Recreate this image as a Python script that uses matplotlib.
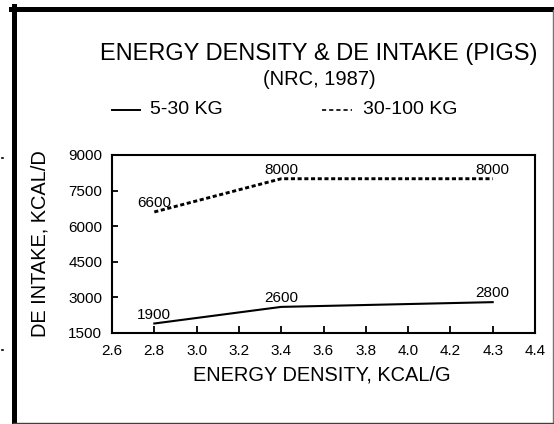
import numpy as np
import matplotlib.pyplot as plt
from matplotlib.lines import Line2D

plt.rcParams['font.family'] = ['Liberation Sans', 'DejaVu Sans']

# data
x_labels = ["2.6", "2.8", "3.0", "3.2", "3.4", "3.6", "3.8", "4.0", "4.2", "4.3", "4.4"]
energy = ["2.8", "3.4", "4.3"]
intake_5_30 = [1900, 2600, 2800]
intake_30_100 = [6600, 8000, 8000]
y_ticks = [1500, 3000, 4500, 6000, 7500, 9000]

# ticks are evenly spaced, so plot against label position
pos = [x_labels.index(e) for e in energy]

W, H = 554, 424
fig = plt.figure(figsize=(W/100, H/100), dpi=100)
ax = fig.add_axes([112/W, 1 - 333/H, 423/W, 178/H])

dots = (0, (1.4, 0.9))
ax.plot(pos, intake_5_30, color="k", lw=1.5)
ax.plot(pos, intake_30_100, color="k", lw=2.1, linestyle=dots)

for series in (intake_5_30, intake_30_100):
    for x, y in zip(pos, series):
        ax.annotate(str(y), (x, y), xytext=(0, 3.6), textcoords="offset points",
                    ha="center", va="baseline", fontsize=11)

ax.set_xlim(0, len(x_labels) - 1)
ax.set_ylim(1500, 9000)
ax.set_xticks(range(len(x_labels)))
ax.set_xticklabels(x_labels)
ax.set_yticks(y_ticks)
ax.tick_params(direction="in", width=1.3, labelsize=11)
ax.tick_params(axis="y", length=4, pad=7)
ax.tick_params(axis="x", length=5, pad=8)
for s in ax.spines.values():
    s.set_linewidth(1.5)

ax.set_xlabel("ENERGY DENSITY, KCAL/G", fontsize=14.4, va="center")
ax.xaxis.set_label_coords(0.495, -0.235)
ax.set_ylabel("DE INTAKE, KCAL/D", fontsize=14.4, va="center")
ax.yaxis.set_label_coords(-0.170, 0.5)

fig.text(319/W, 1 - 60/H, "ENERGY DENSITY & DE INTAKE (PIGS)", fontsize=17,
         ha="center", va="baseline")
fig.text(319/W, 1 - 85/H, "(NRC, 1987)", fontsize=14.5, ha="center", va="baseline")

# legend row
ly = 1 - 110/H
fig.add_artist(Line2D([112/W, 140/W], [ly, ly], color="k", lw=1.4))
fig.text(150/W, ly, "5-30 KG", fontsize=14, va="center")
fig.add_artist(Line2D([322/W, 352/W], [ly, ly], color="k", lw=1.2,
                      linestyle=(0, (2.5, 1.8))))
fig.text(363/W, ly, "30-100 KG", fontsize=14, va="center")

# page frame
fig.add_artist(Line2D([13.5/W, 13.5/W], [0, 1 - 6/H], color="k", lw=3.6))
fig.add_artist(Line2D([11/W, 1], [1 - 8.5/H, 1 - 8.5/H], color="k", lw=3.6))
fig.add_artist(Line2D([552.5/W, 552.5/W], [0, 1 - 10/H], color="0.45", lw=1))
fig.add_artist(Line2D([13/W, 1], [1.2/H, 1.2/H], color="0.25", lw=1))
fig.add_artist(Line2D([1.5/W, 3/W], [1 - 158/H, 1 - 158/H], color="k", lw=1.2))
fig.add_artist(Line2D([1.5/W, 3/W], [1 - 350/H, 1 - 350/H], color="k", lw=1.2))

fig.savefig("out.png", dpi=100)
